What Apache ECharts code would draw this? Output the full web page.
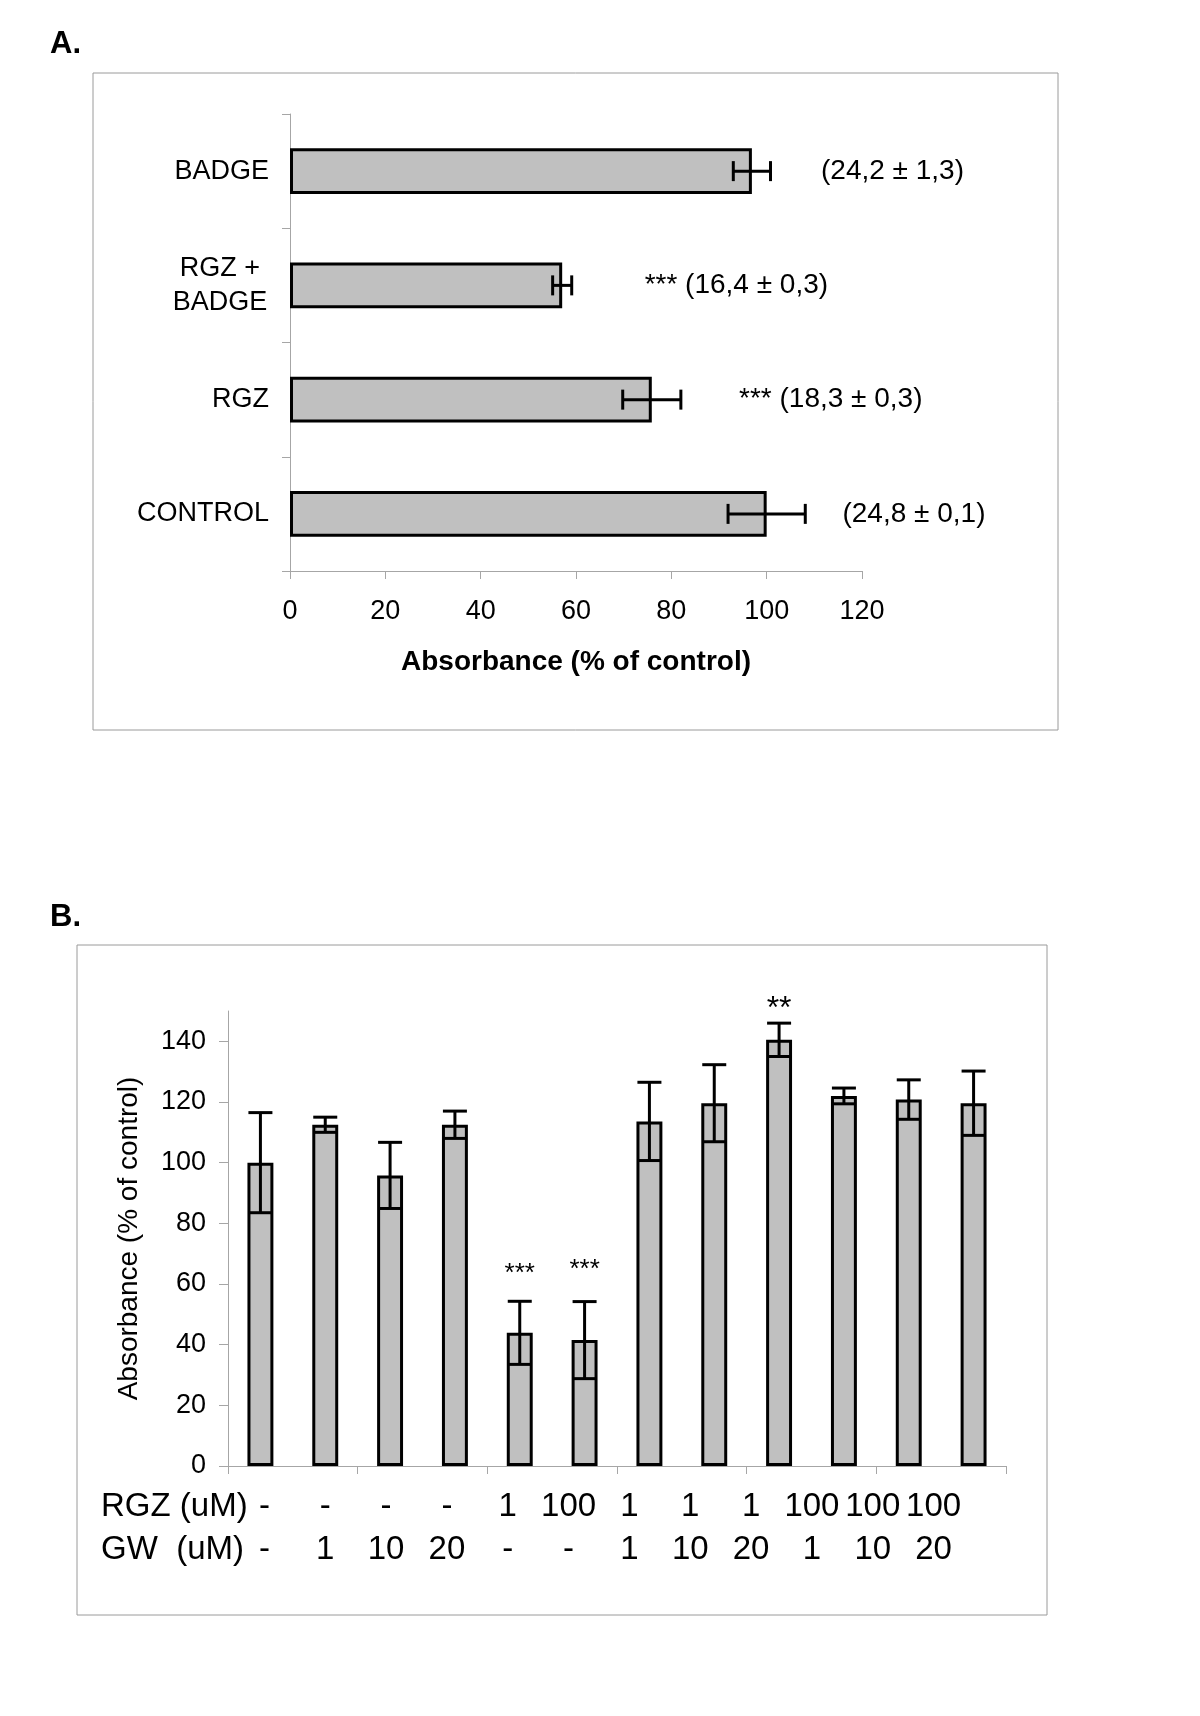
<!DOCTYPE html>
<html><head><meta charset="utf-8">
<script src="https://cdn.jsdelivr.net/npm/echarts@6/dist/echarts.min.js"></script>
<style>html,body{margin:0;padding:0;background:#fff}#chart{width:1200px;height:1716px}</style>
</head><body><div id="chart"></div>
<script>
// ---------- Panel A data ----------
const categoriesA = ['CONTROL', 'RGZ', 'RGZ +\nBADGE', 'BADGE'];
const valuesA = [100, 75.9, 57.1, 96.9];
const errorsA = [8.1, 6.1, 2.0, 3.9];
const notesA = ['(24,8 ± 0,1)', '*** (18,3 ± 0,3)', '*** (16,4 ± 0,3)', '(24,2 ± 1,3)'];
const noteAtA = [115.9, 94.2, 74.4, 111.4];
const ticksA = [0, 20, 40, 60, 80, 100, 120];

// ---------- Panel B data ----------
const rgzB = ['-', '-', '-', '-', '1', '100', '1', '1', '1', '100', '100', '100'];
const gwB  = ['-', '1', '10', '20', '-', '-', '1', '10', '20', '1', '10', '20'];
const categoriesB = rgzB.map((r, i) => 'RGZ ' + r + ' / GW ' + gwB[i]);
const valuesB = [100, 112.5, 95.8, 112.5, 43.9, 41.5, 113.6, 119.6, 140.5, 122, 120.8, 119.6];
const errorsB = [16.5, 2.5, 10.9, 4.5, 10.4, 12.7, 12.9, 12.7, 5.5, 2.6, 6.5, 10.6];
const starsB = ['', '', '', '', '***', '***', '', '', '**', '', '', ''];
const starAtB = [null, null, null, null, 63.2, 64.8, null, null, 150.6, null, null, null];
const ticksB = [0, 20, 40, 60, 80, 100, 120, 140];

const FONT = '"Liberation Sans", Arial, sans-serif';
const AXIS_GRAY = '#a6a6a6';
const BAR_FILL = '#c0c0c0';

const chart = echarts.init(document.getElementById('chart'), null, {renderer: 'canvas'});

function errH(params, api) {
  const lo = api.coord([api.value(0), api.value(1)]);
  const hi = api.coord([api.value(2), api.value(1)]);
  const h = 10;
  const style = {stroke: '#000', lineWidth: 3};
  return {type: 'group', children: [
    {type: 'line', shape: {x1: lo[0], y1: lo[1], x2: hi[0], y2: hi[1]}, style},
    {type: 'line', shape: {x1: lo[0], y1: lo[1] - h, x2: lo[0], y2: lo[1] + h}, style},
    {type: 'line', shape: {x1: hi[0], y1: hi[1] - h, x2: hi[0], y2: hi[1] + h}, style}
  ]};
}
function errV(params, api) {
  const lo = api.coord([api.value(0), api.value(1)]);
  const hi = api.coord([api.value(0), api.value(2)]);
  const w = 12;
  const style = {stroke: '#000', lineWidth: 3};
  return {type: 'group', children: [
    {type: 'line', shape: {x1: lo[0], y1: lo[1], x2: hi[0], y2: hi[1]}, style},
    {type: 'line', shape: {x1: lo[0] - w, y1: lo[1], x2: lo[0] + w, y2: lo[1]}, style},
    {type: 'line', shape: {x1: hi[0] - w, y1: hi[1], x2: hi[0] + w, y2: hi[1]}, style}
  ]};
}
function noteText(params, api) {
  const p = api.coord([api.value(0), api.value(1)]);
  return {type: 'text', x: p[0], y: p[1], style: {
    text: notesA[params.dataIndex], fill: '#000', fontSize: 28, fontFamily: FONT,
    align: 'left', verticalAlign: 'middle', textAlign: 'left', textVerticalAlign: 'middle'}};
}
const starSize = {'***': 26, '**': 32};
function starText(params, api) {
  const idx = api.value(0);
  const p = api.coord([idx, api.value(1)]);
  const s = starsB[idx];
  return {type: 'text', x: p[0], y: p[1], style: {
    text: s, fill: '#000', fontSize: starSize[s] || 26, fontFamily: FONT,
    align: 'center', verticalAlign: 'middle', textAlign: 'center', textVerticalAlign: 'middle'}};
}

const option = {
  backgroundColor: '#fff',
  animation: false,
  textStyle: {fontFamily: FONT, color: '#000'},
  graphic: [
    {type: 'rect', shape: {x: 93, y: 73, width: 965, height: 657}, style: {fill: 'none', stroke: '#9a9a9a', lineWidth: 1}, z: -1},
    {type: 'rect', shape: {x: 77, y: 945, width: 970, height: 670}, style: {fill: 'none', stroke: '#9a9a9a', lineWidth: 1}, z: -1},
    {type: 'text', x: 50, y: 44, style: {text: 'A.', fontSize: 31, fontWeight: 'bold', fontFamily: FONT, fill: '#000', verticalAlign: 'middle', textVerticalAlign: 'middle'}},
    {type: 'text', x: 50, y: 917, style: {text: 'B.', fontSize: 31, fontWeight: 'bold', fontFamily: FONT, fill: '#000', verticalAlign: 'middle', textVerticalAlign: 'middle'}},
    {type: 'text', x: 101, y: 1507, style: {text: 'RGZ (uM)', fontSize: 33, fontFamily: FONT, fill: '#000', verticalAlign: 'middle', textVerticalAlign: 'middle'}},
    {type: 'text', x: 101, y: 1550, style: {text: 'GW  (uM)', fontSize: 33, fontFamily: FONT, fill: '#000', verticalAlign: 'middle', textVerticalAlign: 'middle'}}
  ],
  grid: [
    {left: 290, top: 114, width: 572, height: 457, containLabel: false},
    {left: 228, top: 1011, width: 778, height: 455, containLabel: false},
    {left: 234, top: 1011, width: 730, height: 455, containLabel: false}
  ],
  xAxis: [
    {gridIndex: 0, type: 'value', min: 0, max: 120, interval: 20,
     axisLine: {show: true, lineStyle: {color: AXIS_GRAY, width: 1}},
     axisTick: {show: true, length: 8, lineStyle: {color: AXIS_GRAY}},
     splitLine: {show: false},
     axisLabel: {fontSize: 27, color: '#000', margin: 27, fontFamily: FONT},
     name: 'Absorbance (% of control)', nameLocation: 'middle', nameGap: 77,
     nameTextStyle: {fontSize: 28, fontWeight: 'bold', color: '#000', fontFamily: FONT}},
    {gridIndex: 1, type: 'category', data: categoriesB,
     axisLine: {show: true, lineStyle: {color: AXIS_GRAY, width: 1}},
     axisTick: {show: true, length: 8, lineStyle: {color: AXIS_GRAY}},
     axisLabel: {show: false}},
    {gridIndex: 2, type: 'category', data: categoriesB,
     axisLine: {show: false}, axisTick: {show: false},
     axisLabel: {show: true, interval: 0, margin: 19,
       formatter: (v, i) => '{r|' + rgzB[i] + '}\n{g|' + gwB[i] + '}',
       rich: {
         r: {fontSize: 33, lineHeight: 43, color: '#000', fontFamily: FONT},
         g: {fontSize: 33, lineHeight: 43, color: '#000', fontFamily: FONT}
       }}}
  ],
  yAxis: [
    {gridIndex: 0, type: 'category', data: categoriesA,
     axisLine: {show: true, lineStyle: {color: AXIS_GRAY, width: 1}},
     axisTick: {show: true, length: 8, lineStyle: {color: AXIS_GRAY}},
     axisLabel: {fontSize: 27, color: '#000', margin: 21, fontFamily: FONT,
       formatter: v => v.indexOf('\n') >= 0 ? v.split('\n').map(s => '{m|' + s + '}').join('\n') : v,
       rich: {m: {fontSize: 27, lineHeight: 34, width: 98, align: 'center', color: '#000', fontFamily: FONT}}}},
    {gridIndex: 1, type: 'value', min: 0, max: 150,
     axisLine: {show: true, lineStyle: {color: AXIS_GRAY, width: 1}},
     axisTick: {show: true, length: 9, lineStyle: {color: AXIS_GRAY}, customValues: ticksB},
     splitLine: {show: false},
     axisLabel: {fontSize: 27, color: '#000', margin: 22, fontFamily: FONT, customValues: ticksB},
     name: 'Absorbance (% of control)', nameLocation: 'middle', nameGap: 85, nameRotate: 90,
     nameTextStyle: {fontSize: 28, color: '#000', fontFamily: FONT}},
    {gridIndex: 2, type: 'value', min: 0, max: 150, show: false}
  ],
  series: [
    {type: 'bar', xAxisIndex: 0, yAxisIndex: 0, data: valuesA, barWidth: '40%',
     itemStyle: {color: BAR_FILL, borderColor: '#000', borderWidth: 3}},
    {type: 'custom', xAxisIndex: 0, yAxisIndex: 0, renderItem: errH, encode: {x: [0, 2], y: 1},
     data: valuesA.map((v, i) => [v - errorsA[i], i, v + errorsA[i]]), z: 5},
    {type: 'custom', xAxisIndex: 0, yAxisIndex: 0, renderItem: noteText, encode: {x: 0, y: 1},
     data: noteAtA.map((x, i) => [x, i]), z: 5},
    {type: 'bar', xAxisIndex: 1, yAxisIndex: 1, data: valuesB, barWidth: '40%',
     itemStyle: {color: BAR_FILL, borderColor: '#000', borderWidth: 3}},
    {type: 'custom', xAxisIndex: 1, yAxisIndex: 1, renderItem: errV, encode: {x: 0, y: [1, 2]},
     data: valuesB.map((v, i) => [i, v - errorsB[i], v + errorsB[i]]), z: 5},
    {type: 'custom', xAxisIndex: 1, yAxisIndex: 1, renderItem: starText, encode: {x: 0, y: 1},
     data: starsB.map((s, i) => [i, starAtB[i]]).filter(d => starsB[d[0]]), z: 5}
  ]
};
chart.setOption(option);
</script>
</body></html>
